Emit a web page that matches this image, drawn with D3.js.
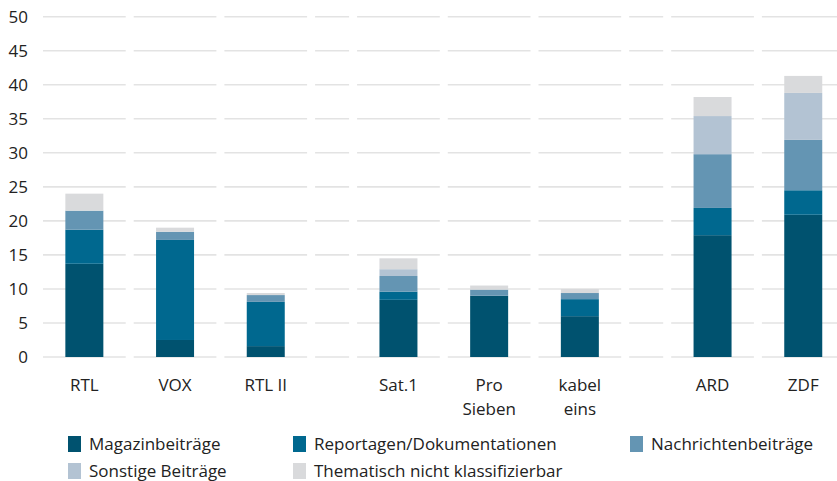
<!DOCTYPE html>
<html>
<head>
<meta charset="utf-8">
<script src="https://cdn.jsdelivr.net/npm/d3@7"></script>
<style>
  body { margin: 0; background: #fff; }
  svg { display: block; font-family: 'Open Sans', sans-serif; }
</style>
</head>
<body>
<svg width="837" height="481"></svg>
<script>
'use strict'

// channels, grouped (private I, private II, public)
const channels = ['RTL', 'VOX', 'RTL II', 'Sat.1', 'Pro Sieben', 'kabel eins', 'ARD', 'ZDF']
const groups = [0, 0, 0, 1, 1, 1, 2, 2]
const labelLines = [['RTL'], ['VOX'], ['RTL II'], ['Sat.1'], ['Pro', 'Sieben'], ['kabel', 'eins'], ['ARD'], ['ZDF']]

const seriesNames = ['Magazinbeiträge', 'Reportagen/Dokumentationen', 'Nachrichtenbeiträge', 'Sonstige Beiträge', 'Thematisch nicht klassifizierbar']
const magazin = [13.7, 2.5, 1.6, 8.4, 9.0, 6.0, 17.9, 20.9]
const reportagen = [5.0, 14.7, 6.5, 1.2, 0, 2.5, 4.0, 3.6]
const nachrichten = [2.8, 1.2, 1.0, 2.3, 0.9, 0.9, 7.9, 7.4]
const sonstige = [0, 0, 0, 1.0, 0, 0, 5.6, 6.9]
const thematisch = [2.5, 0.6, 0.3, 1.6, 0.6, 0.6, 2.8, 2.5]
const yTicks = [0, 5, 10, 15, 20, 25, 30, 35, 40, 45, 50]

const colors = ['#00526f', '#00688f', '#6495b3', '#b3c3d3', '#d9dadc']

const svg = d3.select('svg')
const slotW = 82.7
const gap = 8
const groupGap = 42
const left = 43

// slot positions: index plus extra group spacing, via a linear scale in slot units
const pitch = slotW + gap
const xUnits = channels.map((c, i) => i + groups[i] * groupGap / pitch)
const x = d3.scaleLinear().domain([0, 1]).range([left, left + pitch])
const y = d3.scaleLinear().domain([0, 50]).range([357, 16.7])

const table = channels.map((c, i) => ({
  channel: c,
  [seriesNames[0]]: magazin[i],
  [seriesNames[1]]: reportagen[i],
  [seriesNames[2]]: nachrichten[i],
  [seriesNames[3]]: sonstige[i],
  [seriesNames[4]]: thematisch[i]
}))
const stack = d3.stack().keys(seriesNames)(table)

// gridline segments: one per slot plus one per group spacer
const segs = []
xUnits.forEach(u => segs.push([x(u), x(u) + slotW]))
for (let g = 1; g < 3; g++) {
  const last = xUnits[groups.lastIndexOf(g - 1)]
  const s = x(last) + slotW + gap
  segs.push([s, s + groupGap - gap])
}

const grid = svg.append('g')
yTicks.forEach(t => {
  grid.selectAll(null)
    .data(segs)
    .enter().append('line')
    .attr('x1', d => d[0])
    .attr('x2', d => d[1])
    .attr('y1', y(t))
    .attr('y2', y(t))
    .attr('stroke', '#e3e3e3')
    .attr('stroke-width', 1.6)
})

svg.append('g')
  .selectAll('text')
  .data(yTicks)
  .enter().append('text')
  .attr('x', 28)
  .attr('y', d => y(d))
  .attr('dy', '0.36em')
  .attr('text-anchor', 'end')
  .attr('font-size', 17)
  .attr('fill', '#222')
  .text(d => d)

const barW = 38
svg.append('g')
  .selectAll('g')
  .data(stack)
  .enter().append('g')
  .attr('fill', (d, i) => colors[i])
  .selectAll('rect')
  .data(d => d)
  .enter().append('rect')
  .attr('x', (d, i) => x(xUnits[i]) + slotW / 2 - barW / 2)
  .attr('width', barW)
  .attr('y', d => y(d[1]))
  .attr('height', d => y(d[0]) - y(d[1]))

const lab = svg.append('g')
  .selectAll('text')
  .data(labelLines)
  .enter().append('text')
  .attr('text-anchor', 'middle')
  .attr('font-size', 17)
  .attr('fill', '#222')
  .attr('x', (d, i) => x(xUnits[i]) + slotW / 2)
  .attr('y', 391)
lab.selectAll('tspan')
  .data(d => d)
  .enter().append('tspan')
  .attr('x', function () { return this.parentNode.getAttribute('x') })
  .attr('dy', (d, i) => i === 0 ? 0 : 24)
  .text(d => d)

const legendPos = [[68, 444], [293, 444], [630, 444], [68, 471], [293, 471]]
const leg = svg.append('g')
  .selectAll('g')
  .data(seriesNames)
  .enter().append('g')
  .attr('transform', (d, i) => `translate(${legendPos[i][0]},${legendPos[i][1]})`)
leg.append('rect')
  .attr('x', 0)
  .attr('y', -8)
  .attr('width', 13)
  .attr('height', 16)
  .attr('fill', (d, i) => colors[i])
leg.append('text')
  .attr('x', 21)
  .attr('dy', '0.36em')
  .attr('font-size', 17)
  .attr('fill', '#222')
  .attr('textLength', null)
  .text(d => d)
</script>
</body>
</html>
